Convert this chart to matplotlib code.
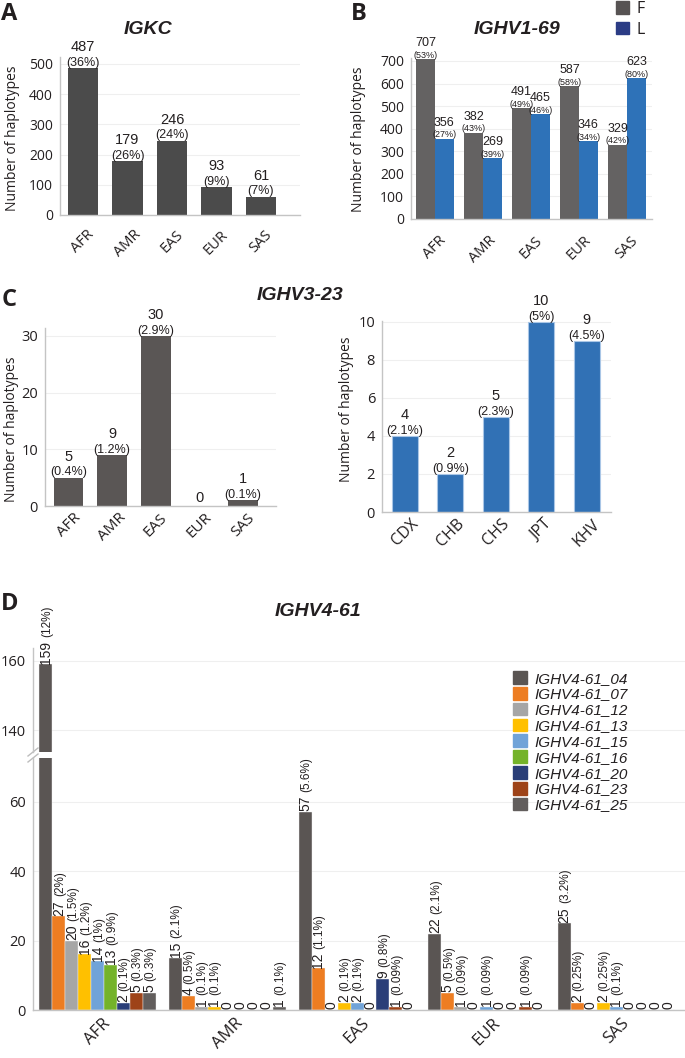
import matplotlib.pyplot as plt
from matplotlib.patches import Patch
import numpy as np

W, H = 685, 1058

# ---- data -------------------------------------------------------------
pops = ["AFR", "AMR", "EAS", "EUR", "SAS"]

igkc_counts = [487, 179, 246, 93, 61]
igkc_pct = ["36%", "26%", "24%", "9%", "7%"]

ighv169_f = [707, 382, 491, 587, 329]
ighv169_f_pct = ["53%", "43%", "49%", "58%", "42%"]
ighv169_l = [356, 269, 465, 346, 623]
ighv169_l_pct = ["27%", "39%", "46%", "34%", "80%"]

ighv323_counts = [5, 9, 30, 0, 1]
ighv323_pct = ["0.4%", "1.2%", "2.9%", "", "0.1%"]

eas_subpops = ["CDX", "CHB", "CHS", "JPT", "KHV"]
eas_counts = [4, 2, 5, 10, 9]
eas_pct = ["2.1%", "0.9%", "2.3%", "5%", "4.5%"]

alleles = ["IGHV4-61_04", "IGHV4-61_07", "IGHV4-61_12", "IGHV4-61_13",
           "IGHV4-61_15", "IGHV4-61_16", "IGHV4-61_20", "IGHV4-61_23",
           "IGHV4-61_25"]
a04 = [159, 15, 57, 22, 25]
a07 = [27, 4, 12, 5, 2]
a12 = [20, 1, 0, 1, 0]
a13 = [16, 1, 2, 0, 2]
a15 = [14, 0, 2, 1, 1]
a16 = [13, 0, 0, 0, 0]
a20 = [2, 0, 9, 0, 0]
a23 = [5, 0, 1, 1, 0]
a25 = [5, 1, 0, 0, 0]
p04 = ["12%", "2.1%", "5.6%", "2.1%", "3.2%"]
p07 = ["2%", "0.5%", "1.1%", "0.5%", "0.25%"]
p12 = ["1.5%", "0.1%", "", "0.09%", ""]
p13 = ["1.2%", "0.1%", "0.1%", "", "0.25%"]
p15 = ["1%", "", "0.1%", "0.09%", "0.1%"]
p16 = ["0.9%", "", "", "", ""]
p20 = ["0.1%", "", "0.8%", "", ""]
p23 = ["0.3%", "", "0.09%", "0.09%", ""]
p25 = ["0.3%", "0.1%", "", "", ""]
allele_counts = [a04, a07, a12, a13, a15, a16, a20, a23, a25]
allele_pcts = [p04, p07, p12, p13, p15, p16, p20, p23, p25]
allele_colors = ["#5a5553", "#ed7d22", "#a6a6a6", "#ffc000", "#70a3d8",
                 "#74b32a", "#2a3e78", "#9e4318", "#625e5d"]

# ---- style ------------------------------------------------------------
TXT = "#231f20"
ANN = "Liberation Sans"
plt.rcParams["font.family"] = ["Open Sans", "DejaVu Sans"]
plt.rcParams["text.color"] = TXT

fig = plt.figure(figsize=(W / 100, H / 100), dpi=100)


def add_ax(x0, y0, x1, y1):
    # pixel box (top-left origin) -> figure fraction
    return fig.add_axes([x0 / W, 1 - y1 / H, (x1 - x0) / W, (y1 - y0) / H])


def tidy(ax, yticks, ysize=9.5):
    for s in ("top", "right"):
        ax.spines[s].set_visible(False)
    for s in ("left", "bottom"):
        ax.spines[s].set_color("#c4c4c4")
        ax.spines[s].set_linewidth(1.0)
    ax.set_yticks(yticks)
    ax.tick_params(length=0, labelsize=ysize, colors=TXT, pad=5)
    ax.grid(axis="y", color="#efefef", lw=0.8)
    ax.set_axisbelow(True)


def xlabels(ax, labels, pad, size=10):
    ax.set_xticks(np.arange(len(labels)))
    ax.set_xticklabels(labels, rotation=45, ha="center", va="top", fontsize=size)
    ax.tick_params(axis="x", pad=pad)


def stacked(ax, xs, vals, pcts, fv, fp):
    for xi, v, p in zip(xs, vals, pcts):
        off = 0.5
        if p:
            ax.annotate(f"({p})", (xi, v), xytext=(0, -0.5), textcoords="offset points",
                        ha="center", va="bottom", fontsize=fp, family=ANN)
            off = fp * 1.12
        ax.annotate(str(v), (xi, v), xytext=(0, off), textcoords="offset points",
                    ha="center", va="bottom", fontsize=fv, family=ANN)


def ylab(x, y):
    fig.text(x / W, 1 - y / H, "Number of haplotypes", rotation=90,
             ha="center", va="center", fontsize=10)


def letter(x, y, s):
    fig.text(x / W, 1 - y / H, s, ha="left", va="top", fontsize=17,
             fontweight="bold")


def title(x, y, s):
    fig.text(x / W, 1 - y / H, s, ha="center", va="center", fontsize=14,
             fontweight="bold", style="italic", family=ANN)


x = np.arange(5)

# ---- A ----------------------------------------------------------------
axA = add_ax(60, 57, 300, 215)
axA.bar(x, igkc_counts, width=0.68, color="#4b4b4b")
axA.set_xlim(-0.52, 4.88)
axA.set_ylim(0, 523)
tidy(axA, range(0, 501, 100), ysize=10)
xlabels(axA, pops, pad=9, size=10.5)
stacked(axA, x, igkc_counts, igkc_pct, 10.5, 9)
letter(1, 2, "A")
title(148, 30, "IGKC")
ylab(13, 138)

# ---- B ----------------------------------------------------------------
axB = add_ax(411, 58, 652, 219)
axB.bar(x - 0.195, ighv169_f, width=0.39, color="#646262")
axB.bar(x + 0.195, ighv169_l, width=0.39, color="#2e72b8")
axB.set_xlim(-0.5, 4.52)
axB.set_ylim(0, 713)
tidy(axB, range(0, 701, 100), ysize=10)
xlabels(axB, pops, pad=10, size=10.5)
stacked(axB, x - 0.195, ighv169_f, ighv169_f_pct, 9, 6.5)
stacked(axB, x + 0.195, ighv169_l, ighv169_l_pct, 9, 6.5)
letter(351, 2, "B")
title(517, 30, "IGHV1-69")
ylab(359, 139)
fig.legend([Patch(color="#575353"), Patch(color="#2b3c85")], ["F", "L"],
           loc="upper left", bbox_to_anchor=(616 / W, 1 - 1 / H), frameon=False,
           fontsize=11.5, handlelength=0.8, handleheight=0.8, handletextpad=0.5,
           labelspacing=0.3, borderpad=0, borderaxespad=0)

# ---- C left -----------------------------------------------------------
axC1 = add_ax(45, 328, 276, 506)
axC1.bar(x, ighv323_counts, width=0.68, color="#5a5655")
axC1.set_xlim(-0.54, 4.76)
axC1.set_ylim(0, 31.4)
tidy(axC1, [0, 10, 20, 30], ysize=10.5)
xlabels(axC1, pops, pad=3, size=11)
stacked(axC1, x, ighv323_counts, ighv323_pct, 10.5, 9)
letter(2, 288, "C")
title(300, 295, "IGHV3-23")
ylab(12, 429)

# ---- C right ----------------------------------------------------------
axC2 = add_ax(382, 321, 611, 512)
axC2.bar(x, eas_counts, width=0.57, color="#3171b5", edgecolor="#a9c6e6", linewidth=0.8)
axC2.set_xlim(-0.5, 4.53)
axC2.set_ylim(0, 10.05)
tidy(axC2, range(0, 11, 2), ysize=10.5)
xlabels(axC2, eas_subpops, pad=3, size=11.5)
stacked(axC2, x, eas_counts, eas_pct, 10.5, 9)
ylab(347, 409)

# ---- D (broken axis) --------------------------------------------------
LOW_TOP = 72.6
axU = add_ax(33, 648, 685, 752)
axL = add_ax(33, 758, 685, 1010)
axU.set_ylim(133.7, 163.7)
axL.set_ylim(0, LOW_TOP)
for ax in (axU, axL):
    ax.set_xlim(-0.5, 4.53)
tidy(axU, [140, 160], ysize=10.5)
tidy(axL, [0, 20, 40, 60], ysize=10.5)
axU.spines["bottom"].set_visible(False)
axU.set_xticks([])
xlabels(axL, pops, pad=4, size=12)

for j, (counts, pcts) in enumerate(zip(allele_counts, allele_pcts)):
    xs = x + (j - 4) * 0.1
    for ax in (axU, axL):
        ax.bar(xs, counts, width=0.1, color=allele_colors[j],
               edgecolor="#f2f2f2", linewidth=0.3)
    for xi, v, p in zip(xs, counts, pcts):
        ax = axU if v > LOW_TOP else axL
        t = ax.annotate(str(v), (xi, v), xytext=(0, 0.5), textcoords="offset points",
                        rotation=90, ha="center", va="bottom", fontsize=10, family=ANN)
        if p:
            ax.annotate(f"({p})", xy=(1, 1), xycoords=t, xytext=(0, 2.5),
                        textcoords="offset points", rotation=90, ha="right",
                        va="bottom", fontsize=8.5, family=ANN)

# break marks on the left spine
for ax, yb, sz in ((axU, 0, 104), (axL, 1, 252)):
    dx, dy = 5 / 652, 4 / sz
    ax.plot([-dx, dx], [yb - dy, yb + dy], transform=ax.transAxes,
            color="#bdbdbd", lw=1, clip_on=False)

letter(1, 592, "D")
title(318, 612, "IGHV4-61")
fig.legend([Patch(color=c) for c in allele_colors], alleles,
           loc="upper left", bbox_to_anchor=(513 / W, 1 - 671 / H), frameon=False,
           prop=dict(family=ANN, style="italic", size=11),
           handlelength=0.9, handleheight=0.9, handletextpad=0.5,
           labelspacing=0.08, borderpad=0, borderaxespad=0)

fig.savefig("out.png", dpi=100, facecolor="white")
